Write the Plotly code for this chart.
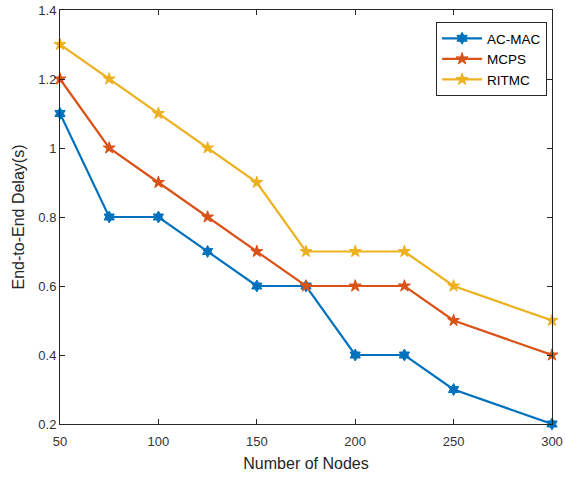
import plotly.graph_objects as go

nodes = [50, 75, 100, 125, 150, 175, 200, 225, 250, 300]
ac_mac = [1.1, 0.8, 0.8, 0.7, 0.6, 0.6, 0.4, 0.4, 0.3, 0.2]
mcps = [1.2, 1.0, 0.9, 0.8, 0.7, 0.6, 0.6, 0.6, 0.5, 0.4]
ritmc = [1.3, 1.2, 1.1, 1.0, 0.9, 0.7, 0.7, 0.7, 0.6, 0.5]

x_ticks = [50, 100, 150, 200, 250, 300]
y_ticks = [0.2, 0.4, 0.6, 0.8, 1.0, 1.2, 1.4]
y_ticktext = ["0.2", "0.4", "0.6", "0.8", "1", "1.2", "1.4"]

series = [
    ("AC-MAC", ac_mac, "#0072BD", "hexagram"),
    ("MCPS", mcps, "#D95319", "star"),
    ("RITMC", ritmc, "#EDB120", "star"),
]

fig = go.Figure()
for name, vals, color, sym in series:
    fig.add_trace(go.Scatter(
        x=nodes, y=vals, name=name, mode="lines+markers",
        line=dict(color=color, width=2.2),
        marker=dict(symbol=sym, size=9, color=color, line=dict(color=color, width=1)),
        cliponaxis=False,
    ))

axis_common = dict(
    showline=True, linecolor="#262626", linewidth=1, mirror="ticks",
    ticks="inside", ticklen=5, tickcolor="#262626", showgrid=False, zeroline=False,
    automargin=False, ticklabeloverflow="allow",
    tickfont=dict(family="Liberation Sans, Arial", size=13, color="#333333"),
)

fig.update_layout(
    width=565, height=479,
    margin=dict(l=60, r=13, t=10, b=55),
    paper_bgcolor="white", plot_bgcolor="white",
    font=dict(family="Liberation Sans, Arial", color="#262626"),
    xaxis=dict(range=[50, 300], tickvals=x_ticks, ticklabelstandoff=5,
               title=dict(text="Number of Nodes", font=dict(size=16), standoff=10),
               **axis_common),
    yaxis=dict(range=[0.2, 1.4], tickvals=y_ticks, ticktext=y_ticktext,
               title=dict(text="End-to-End Delay(s)", font=dict(size=16), standoff=9),
               **axis_common),
    legend=dict(x=0.99, y=0.971, xanchor="right", yanchor="top",
                bgcolor="white", bordercolor="#262626", borderwidth=1,
                font=dict(size=13.5, color="black"), itemwidth=40,
                tracegroupgap=0),
    showlegend=True,
)

fig.write_html("out.html", config={"displayModeBar": False},
               post_script="document.body.style.margin='0';document.body.style.overflow='hidden';")
